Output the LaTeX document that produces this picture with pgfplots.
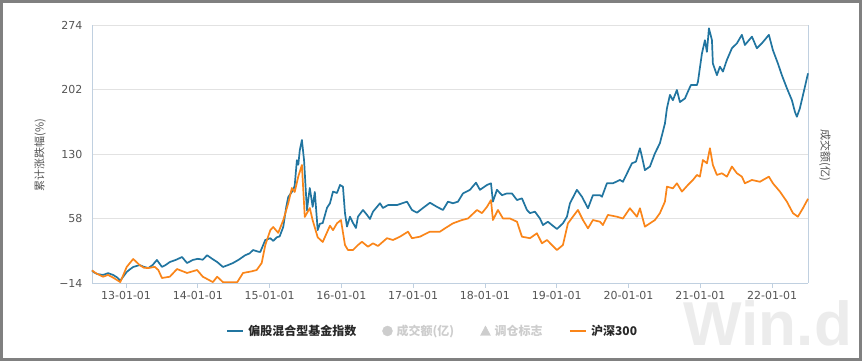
\documentclass[border=0pt]{standalone}
\usepackage{pgfplots}
\pgfplotsset{compat=1.18}
\usepackage{fontspec}
\setmainfont{DejaVu Sans}
\newfontfamily\cjk{Noto Sans CJK SC}
\newfontfamily\wm{Liberation Sans}
\definecolor{fundblue}{RGB}{33,117,160}
\definecolor{hsorange}{RGB}{250,133,25}
\definecolor{axisln}{RGB}{192,208,224}
\definecolor{gridc}{RGB}{226,226,226}
\definecolor{tickc}{RGB}{85,85,85}
\definecolor{legc}{RGB}{40,40,40}
\definecolor{legoff}{RGB}{205,205,205}
\definecolor{wmc}{RGB}{236,236,236}

\pgfplotstableread{
x y
2012.526 0
2012.55 -2
2012.60 -4
2012.68 -5
2012.75 -3
2012.82 -5
2012.88 -8
2012.92 -11.5
2012.96 -7
2013.01 -1.7
2013.05 1
2013.10 3.9
2013.19 6
2013.25 4
2013.31 2.7
2013.37 6
2013.43 11.7
2013.50 4
2013.55 6
2013.61 9.4
2013.70 12
2013.78 15
2013.85 8.3
2013.93 11.7
2014.00 13
2014.07 12
2014.13 17
2014.20 13
2014.27 9.4
2014.35 3.9
2014.42 6
2014.49 8.3
2014.57 12
2014.66 17
2014.72 19
2014.77 22.8
2014.84 21
2014.87 20.6
2014.94 34
2015.01 36
2015.05 33
2015.10 37
2015.14 38
2015.19 48.5
2015.23 70
2015.26 82
2015.33 90
2015.35 95
2015.38 123
2015.40 118
2015.42 134
2015.45 145.6
2015.48 123
2015.52 67
2015.54 80
2015.56 92
2015.60 71
2015.63 87.6
2015.67 45
2015.70 52
2015.74 53
2015.80 70
2015.841 75
2015.883 88
2015.939 86.5
2015.981 95.4
2016.022 93.5
2016.050 64
2016.078 49
2016.120 60
2016.162 53
2016.203 47.4
2016.231 60
2016.301 67.5
2016.357 62
2016.398 57.5
2016.440 65.6
2016.538 75
2016.579 69.7
2016.649 73
2016.774 73
2016.914 76.8
2016.983 67.5
2017.053 64.5
2017.136 69.7
2017.234 75.6
2017.331 71
2017.415 67.5
2017.485 76.8
2017.554 75
2017.624 76.8
2017.694 86
2017.791 90
2017.875 98
2017.930 90
2018.028 95.4
2018.084 97.3
2018.111 76.8
2018.167 90
2018.237 84
2018.306 86
2018.376 86
2018.446 78.6
2018.515 80.5
2018.585 67.5
2018.627 64
2018.696 65.6
2018.766 58
2018.808 50.7
2018.877 54.4
2018.933 50.7
2019.003 46.3
2019.086 52.6
2019.142 60
2019.184 75
2019.281 90
2019.351 82.3
2019.435 69.4
2019.504 84
2019.602 84
2019.630 82.3
2019.699 97.3
2019.783 97.3
2019.880 101
2019.922 99
2020.047 119.6
2020.103 121.4
2020.159 136.4
2020.187 127
2020.228 112
2020.298 116
2020.368 130.8
2020.437 142
2020.507 164
2020.535 181
2020.577 196
2020.618 190
2020.674 201.5
2020.716 188
2020.786 192
2020.827 199.6
2020.869 207
2020.953 207
2020.967 210.7
2021.022 242
2021.064 257
2021.092 244
2021.120 270.3
2021.162 257
2021.175 231
2021.231 218
2021.273 227.5
2021.315 222
2021.370 235
2021.440 248
2021.510 253.6
2021.579 263
2021.621 251.7
2021.719 261
2021.788 248
2021.858 253.6
2021.955 263
2022.011 246
2022.081 231
2022.136 218
2022.206 203.4
2022.276 190
2022.318 177
2022.345 171.6
2022.387 181
2022.457 205
2022.50 220
}\fundtable

\pgfplotstableread{
x y
2012.526 0
2012.58 -3
2012.68 -7
2012.75 -5
2012.82 -8
2012.92 -13
2013.01 4
2013.10 12.8
2013.19 6
2013.25 3
2013.31 2.7
2013.40 4
2013.45 0.5
2013.50 -8.4
2013.61 -7
2013.71 1.6
2013.85 -2.8
2013.99 0.5
2014.07 -7
2014.21 -13
2014.27 -7
2014.35 -13
2014.55 -13
2014.63 -2.8
2014.75 -1
2014.82 0.5
2014.89 8.3
2014.94 28.4
2015.01 45
2015.05 48.5
2015.12 42
2015.19 56
2015.26 75
2015.31 92
2015.35 87.6
2015.40 105
2015.45 117.7
2015.49 59.7
2015.56 69.7
2015.60 56
2015.67 37
2015.74 31.8
2015.841 50
2015.883 45
2015.939 52.6
2015.994 56.3
2016.050 28.4
2016.092 22.8
2016.162 22.8
2016.231 28.4
2016.287 32
2016.370 26.5
2016.440 30.3
2016.510 27.3
2016.635 36
2016.719 34
2016.816 37.7
2016.928 43.3
2016.983 36
2017.095 37.7
2017.234 43.3
2017.373 43.3
2017.443 47
2017.554 52.6
2017.680 56.3
2017.763 58
2017.889 67.5
2017.958 64
2018.028 71
2018.084 78.6
2018.111 56.3
2018.181 67.5
2018.251 58
2018.348 58
2018.446 54.4
2018.515 37.7
2018.627 36
2018.724 41.5
2018.794 30.3
2018.864 34
2018.933 28.4
2019.003 22.8
2019.086 28.4
2019.156 52.6
2019.295 67.5
2019.365 56.3
2019.435 47
2019.504 56.3
2019.602 54.4
2019.643 50.7
2019.713 62
2019.838 60
2019.922 58
2020.019 69.4
2020.117 60
2020.159 69.4
2020.228 48.9
2020.368 56.3
2020.437 64
2020.507 76.8
2020.535 93.5
2020.618 91.7
2020.674 97.3
2020.744 88
2020.827 95.4
2020.897 101
2020.953 106.6
2020.994 104.7
2021.036 123.3
2021.092 119.6
2021.134 136.4
2021.175 117.7
2021.231 106.6
2021.301 108.5
2021.370 104.7
2021.440 116
2021.510 108.5
2021.579 104.7
2021.621 97.3
2021.719 101
2021.830 99
2021.955 104.7
2022.011 97.3
2022.109 88
2022.206 76.8
2022.290 64
2022.359 60
2022.429 69.4
2022.50 80
}\hstable

\begin{document}
\begin{tikzpicture}[x=1pt,y=1pt]
\path[use as bounding box] (0,0) rectangle (862,361);
\fill[white] (0,0) rectangle (862,361);
\node[anchor=base east, text=wmc, font=\wm\bfseries\fontsize{62}{62}\selectfont, inner sep=0pt] at (852,15) {Win.d};
\begin{axis}[
  at={(92pt,78pt)}, anchor=south west,
  scale only axis, width=716pt, height=258pt,
  xmin=2012.526, xmax=2022.5, ymin=-14, ymax=274,
  xtick={2013,2014,2015,2016,2017,2018,2019,2020,2021,2022},
  xticklabels={13-01-01,14-01-01,15-01-01,16-01-01,17-01-01,18-01-01,19-01-01,20-01-01,21-01-01,22-01-01},
  ytick={-14,58,130,202,274},
  yticklabels={−14,58,130,202,274},
  ymajorgrids, major grid style={gridc, line width=0.8pt},
  axis x line*=bottom, axis y line*=box,
  axis line style={-, axisln, line width=0.9pt},
  x axis line style={-}, y axis line style={-},
  xtick align=outside, major tick length=5pt,
  xtick style={axisln, line width=0.9pt},
  ytick style={draw=none},
  ytick pos=left,
  xticklabel style={font=\fontsize{11}{11}\selectfont, text=tickc},
  yticklabel style={font=\fontsize{11}{11}\selectfont, text=tickc, xshift=-6pt},
  ylabel={\cjk 累计涨跌幅(\%)},
  ylabel style={at={(axis description cs:-0.0726,0.496)}, anchor=center, font=\fontsize{11}{11}\selectfont, text=tickc},
  legend style={at={(axis description cs:0.4755,-0.186)}, anchor=center, draw=none, fill=none,
    font=\cjk\bfseries\fontsize{12}{12}\selectfont, text=legc,
    /tikz/every odd column/.append style={column sep=2pt},
    /tikz/every even column/.append style={column sep=24pt}},
  legend columns=4,
  clip=false,
]
\addplot[fundblue, line width=1.7pt, line join=round, legend image code/.code={\draw[fundblue, line width=2.5pt] (0pt,0pt) -- (16pt,0pt);}] table[x=x,y=y] {\fundtable};
\addlegendentry{偏股混合型基金指数}
\addlegendimage{legend image code/.code={\fill[legoff] (5pt,0pt) circle (5pt);}}
\addlegendentry{\textcolor{legoff}{成交额(亿)}}
\addlegendimage{legend image code/.code={\fill[legoff] (0pt,-4.5pt) -- (10pt,-4.5pt) -- (5pt,5pt) -- cycle;}}
\addlegendentry{\textcolor{legoff}{调仓标志}}
\addplot[hsorange, line width=1.7pt, line join=round, legend image code/.code={\draw[hsorange, line width=2.5pt] (0pt,0pt) -- (16pt,0pt);}] table[x=x,y=y] {\hstable};
\addlegendentry{沪深300}
\node[rotate=-90, anchor=center, font=\cjk\fontsize{11}{11}\selectfont, text=tickc] at (axis description cs:1.0237,0.496) {成交额(亿)};
\end{axis}
\draw[gray, line width=3pt] (1.5,1.5) rectangle (860.5,359.5);
\end{tikzpicture}
\end{document}
